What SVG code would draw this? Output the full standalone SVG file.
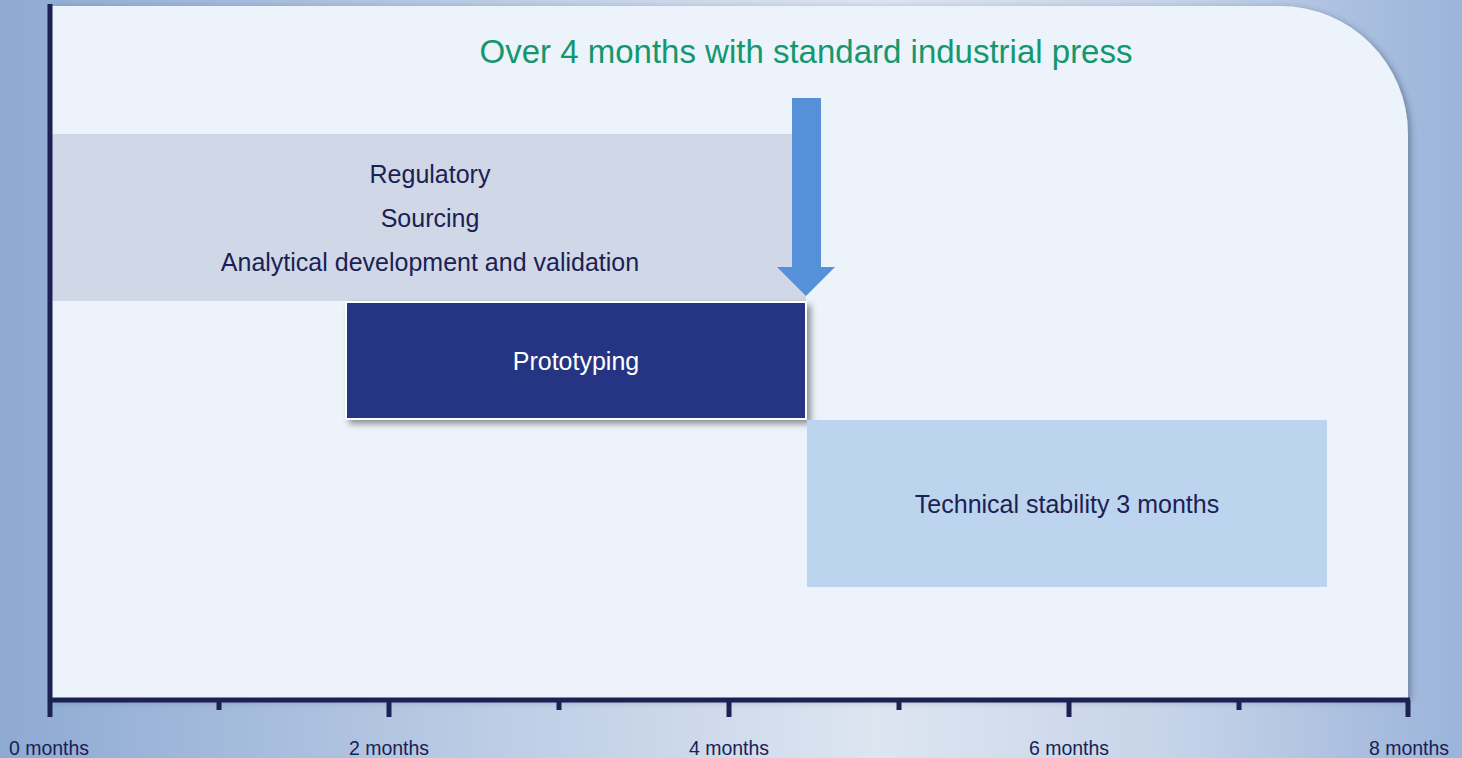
<svg xmlns="http://www.w3.org/2000/svg" width="1462" height="758" viewBox="0 0 1462 758">
<defs>
<linearGradient id="bg" x1="0" y1="0" x2="1" y2="0">
<stop offset="0" stop-color="#8eaad3"/>
<stop offset="0.3" stop-color="#b7c9e3"/>
<stop offset="0.6" stop-color="#dde5f1"/>
<stop offset="0.8" stop-color="#c6d4e9"/>
<stop offset="1" stop-color="#9bb4da"/>
</linearGradient>
<filter id="panelShadow" x="-5%" y="-5%" width="110%" height="110%">
<feDropShadow dx="3" dy="2" stdDeviation="3" flood-color="#33405a" flood-opacity="0.45"/>
</filter>
<filter id="boxShadow" x="-5%" y="-10%" width="115%" height="125%">
<feDropShadow dx="4" dy="4" stdDeviation="3" flood-color="#000" flood-opacity="0.4"/>
</filter>
<style>
.ax{stroke:#1b2153;stroke-width:5;fill:none}
.lbl{font-family:"Liberation Sans",Arial,sans-serif;font-size:19.5px;fill:#1b2153;text-anchor:middle}
.t{font-family:"Liberation Sans",Arial,sans-serif;font-size:25px;fill:#1b2153;text-anchor:middle}
</style>
</defs>
<rect width="1462" height="758" fill="url(#bg)"/>
<path id="panel" d="M50 6 H1280 A128 128 0 0 1 1408 134 V699 H50 Z" fill="#ecf3fb" filter="url(#panelShadow)"/>
<text x="806" y="63" font-family="'Liberation Sans',Arial,sans-serif" font-size="33" fill="#14976e" text-anchor="middle">Over 4 months with standard industrial press</text>
<g id="regulatory">
<rect x="50" y="134" width="756" height="167" fill="#d0d7e7"/>
<text class="t" x="430" y="183">Regulatory</text>
<text class="t" x="430" y="227">Sourcing</text>
<text class="t" x="430" y="271">Analytical development and validation</text>
</g>
<g id="prototyping">
<rect x="346" y="302" width="460" height="117" fill="#283583" stroke="#ffffff" stroke-width="2" filter="url(#boxShadow)"/>
<text class="t" x="576" y="370" style="fill:#ffffff">Prototyping</text>
</g>
<g id="stability">
<rect x="807" y="420" width="520" height="167" fill="#bdd4ef"/>
<text class="t" x="1067" y="513">Technical stability 3 months</text>
</g>
<g id="connectors">
<path d="M792 98 H821 V267 H835 L806 296 L777 267 H792 Z" fill="#5590d9"/>
</g>
<g id="axis">
<line class="ax" x1="50" y1="4" x2="50" y2="717"/>
<line class="ax" x1="48" y1="700" x2="1410" y2="700"/>
<line class="ax" x1="389" y1="700" x2="389" y2="717"/>
<line class="ax" x1="729" y1="700" x2="729" y2="717"/>
<line class="ax" x1="1069" y1="700" x2="1069" y2="717"/>
<line class="ax" x1="1408" y1="700" x2="1408" y2="717"/>
<line class="ax" x1="219" y1="700" x2="219" y2="710"/>
<line class="ax" x1="559" y1="700" x2="559" y2="710"/>
<line class="ax" x1="899" y1="700" x2="899" y2="710"/>
<line class="ax" x1="1239" y1="700" x2="1239" y2="710"/>
<text class="lbl" x="49" y="755">0 months</text>
<text class="lbl" x="389" y="755">2 months</text>
<text class="lbl" x="729" y="755">4 months</text>
<text class="lbl" x="1069" y="755">6 months</text>
<text class="lbl" x="1409" y="755">8 months</text>
</g>
</svg>
